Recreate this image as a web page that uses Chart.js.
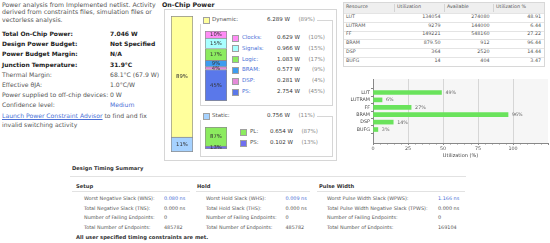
<!DOCTYPE html>
<html><head><meta charset="utf-8">
<script src="https://cdn.jsdelivr.net/npm/chart.js@4.4.1/dist/chart.umd.min.js"></script>
<style>
html,body{margin:0;padding:0;background:#fff;}
#root{position:relative;width:550px;height:243px;overflow:hidden;font-family:"DejaVu Sans",sans-serif;color:#555;}
.t{position:absolute;white-space:nowrap;line-height:1;}
.box{position:absolute;border:1px solid #d6d6d6;box-sizing:border-box;}
.hl{position:absolute;height:1px;background:#dedede;}
canvas{position:absolute;}
</style></head><body><div id="root"></div>
<script>
// ---------- data ----------
const introLines = ['Power analysis from Implemented netlist. Activity','derived from constraints files, simulation files or','vectorless analysis.'];
const summaryLabels = ['Total On-Chip Power:','Design Power Budget:','Power Budget Margin:','Junction Temperature:','Thermal Margin:','Effective \u03B8JA:','Power supplied to off-chip devices:','Confidence level:'];
const summaryValues = ['7.046 W','Not Specified','N/A','31.9\u00B0C','68.1\u00B0C (67.9 W)','1.0\u00B0C/W','0 W','Medium'];

const powerCats = ['Dynamic:','Static:'];
const powerWatts = [6.289, 0.756];
const powerPct = [89, 11];
const dynCats = ['Clocks:','Signals:','Logic:','BRAM:','DSP:','PS:'];
const dynWatts = [0.629, 0.966, 1.083, 0.577, 0.281, 2.754];
const dynPct = [10, 15, 17, 9, 4, 45];
const staticCats = ['PL:','PS:'];
const staticWatts = [0.654, 0.102];
const staticPct = [87, 13];

const tableHeader = ['Resource','Utilization','Available','Utilization %'];
const resources = ['LUT','LUTRAM','FF','BRAM','DSP','BUFG'];
const utilized = ['134054','9279','149221','879.50','364','14'];
const available = ['274080','144000','548160','912','2520','404'];
const utilPct = [48.91, 6.44, 27.22, 96.44, 14.44, 3.47];

const setupLabels = ['Worst Negative Slack (WNS):','Total Negative Slack (TNS):','Number of Failing Endpoints:','Total Number of Endpoints:'];
const setupValues = ['0.080 ns','0.000 ns','0','485782'];
const holdLabels = ['Worst Hold Slack (WHS):','Total Hold Slack (THS):','Number of Failing Endpoints:','Total Number of Endpoints:'];
const holdValues = ['0.009 ns','0.000 ns','0','485782'];
const pulseLabels = ['Worst Pulse Width Slack (WPWS):','Total Pulse Width Negative Slack (TPWS):','Number of Failing Endpoints:','Total Number of Endpoints:'];
const pulseValues = ['1.166 ns','0.000 ns','0','169104'];

// ---------- styles ----------
const FAMILY = '"DejaVu Sans", sans-serif';
const LINK = '#4a6fd6';
const powerColors = ['#ffff9c','#a6d2ff'];
const dynColors = ['#ff8cf5','#a8ffff','#8ceb5f','#3d9cf0','#e58ad9','#5a78ea'];
const staticColors = ['#8ceb5f','#6f6ff0'];
const BAR_GREEN = '#6ae35c';

const root = document.getElementById('root');
function T(x, y, s, o = {}) {
  const d = document.createElement('div');
  d.className = 't';
  const fs = o.fs || 6.2;
  d.style.fontSize = fs + 'px';
  d.style.top = (y - fs * 0.55) + 'px';
  d.style.left = x + 'px';
  if (o.right) d.style.transform = 'translateX(-100%)';
  if (o.bold) d.style.fontWeight = 'bold';
  if (o.color) d.style.color = o.color;
  if (o.bg) { d.style.background = o.bg; }
  if (o.u) d.style.textDecoration = 'underline';
  d.textContent = s;
  root.appendChild(d);
  return d;
}
function box(x, y, w, h, extra) {
  const d = document.createElement('div');
  d.className = 'box';
  Object.assign(d.style, {left: x + 'px', top: y + 'px', width: w + 'px', height: h + 'px'}, extra || {});
  root.appendChild(d); return d;
}
function hline(x, y, w, c) {
  const d = document.createElement('div'); d.className = 'hl';
  Object.assign(d.style, {left: x + 'px', top: y + 'px', width: w + 'px'});
  if (c) d.style.background = c;
  root.appendChild(d); return d;
}
function swatch(x, yc, color) {
  const d = document.createElement('div');
  Object.assign(d.style, {position:'absolute', left:x+'px', top:(yc-3.5)+'px', width:'7px', height:'7px', background:color, border:'1px solid #a0a0a0', boxSizing:'border-box'});
  root.appendChild(d);
}
function cv(x, y, w, h) {
  const c = document.createElement('canvas');
  c.width = w; c.height = h;
  Object.assign(c.style, {left: x + 'px', top: y + 'px', width: w + 'px', height: h + 'px'});
  root.appendChild(c); return c;
}

// ---------- left summary ----------
introLines.forEach((s, i) => T(2, 5 + i * 7.8, s, {fs: 6.2}));
summaryLabels.forEach((s, i) => {
  const y = 34.5 + i * 10.1;
  const bold = i < 4;
  T(2, y, s, {fs: bold ? 6 : 6.1, bold, color: bold ? '#222' : '#555'});
  T(110, y, summaryValues[i], {fs: bold ? 6 : 6.1, bold, color: i === 7 ? LINK : (bold ? '#222' : '#555')});
});
const l1 = T(2, 116.7, '', {fs: 6.1});
const a = document.createElement('span'); a.textContent = 'Launch Power Constraint Advisor';
a.style.color = LINK; a.style.textDecoration = 'underline';
l1.appendChild(a); l1.appendChild(document.createTextNode(' to find and fix'));
T(2, 125.3, 'invalid switching activity', {fs: 6.1});

// ---------- On-Chip Power panel ----------
box(164, 9, 173, 152);
T(162, 5, 'On-Chip Power', {fs: 6.3, bold: true, color: '#222', bg: '#fff'});
box(200, 20, 133, 86);
box(200, 116, 133, 41);
Chart.defaults.font.family = FAMILY;

const segLabels = {
  id: 'segLabels',
  afterDatasetsDraw(chart, args, opts) {
    const ctx = chart.ctx;
    chart.data.datasets.forEach((ds, i) => {
      const el = chart.getDatasetMeta(i).data[0];
      ctx.save();
      ctx.font = `${opts.size || 5.3}px ${FAMILY}`;
      ctx.fillStyle = '#333'; ctx.textAlign = 'center'; ctx.textBaseline = 'middle';
      ctx.fillText(ds.label, el.x, (el.y + el.base) / 2 + 0.5);
      ctx.restore();
    });
  }
};
function stacked(canvas, pcts, colors) {
  const ds = pcts.map((p, i) => ({label: p + '%', data: [p], backgroundColor: colors[i], borderColor: '#8c8c8c', borderWidth: 1, barPercentage: 1, categoryPercentage: 1}));
  ds.reverse();
  ds[0].borderSkipped = false;
  new Chart(canvas, {
    type: 'bar',
    data: {labels: [''], datasets: ds},
    options: {
      responsive: false, animation: false, events: [],
      layout: {padding: 0},
      plugins: {legend: {display: false}, tooltip: {enabled: false}, segLabels: {size: 5.3}},
      scales: {x: {display: false, stacked: true}, y: {display: false, stacked: true, min: 0, max: pcts.reduce((s, v) => s + v, 0)}}
    },
    plugins: [segLabels]
  });
}
stacked(cv(171, 16, 22, 136), powerPct, powerColors);
stacked(cv(205, 31, 22, 70), dynPct, dynColors);
stacked(cv(205, 127, 22, 22), staticPct, staticColors);

// legend headers
[20, 116].forEach((y, i) => {
  const bg = document.createElement('div');
  Object.assign(bg.style, {position:'absolute', left:'199px', top:(y-4)+'px', width:'118px', height:'8px', background:'#fff'});
  root.appendChild(bg);
  swatch(203, y, powerColors[i]);
  T(212, y, powerCats[i], {fs: 5.5, color: '#555'});
  T(290, y, powerWatts[i].toFixed(3) + ' W', {fs: 5.5, right: true, color: '#333'});
  T(315, y, '(' + powerPct[i] + '%)', {fs: 5.5, right: true, color: '#888'});
});
dynCats.forEach((c, i) => {
  const y = 38 + i * 10.8;
  swatch(232, y, dynColors[i]);
  T(242, y, c, {fs: 5.5, color: LINK});
  T(300, y, dynWatts[i].toFixed(3) + ' W', {fs: 5.5, right: true, color: '#333'});
  T(325, y, '(' + dynPct[i] + '%)', {fs: 5.5, right: true, color: '#888'});
});
staticCats.forEach((c, i) => {
  const y = 132 + i * 11;
  swatch(240, y, staticColors[i]);
  T(250, y, c, {fs: 5.5, color: '#555'});
  T(293, y, staticWatts[i].toFixed(3) + ' W', {fs: 5.5, right: true, color: '#333'});
  T(318, y, '(' + staticPct[i] + '%)', {fs: 5.5, right: true, color: '#888'});
});

// ---------- utilization table ----------
const colX = [343, 394, 444, 493, 545];
const tTop = 2, hdrH = 11, rowH = 8.8;
box(343, tTop, 202, hdrH + rowH * resources.length + 1.5, {borderColor: '#d8d8d8'});
const hdr = document.createElement('div');
Object.assign(hdr.style, {position:'absolute', left:'344px', top:(tTop+1)+'px', width:'200px', height:(hdrH-1)+'px', background:'#efefef'});
root.appendChild(hdr);
for (let k = 1; k < 4; k++) {
  const v = document.createElement('div');
  Object.assign(v.style, {position:'absolute', left:colX[k]+'px', top:(tTop+2)+'px', width:'1px', height:(hdrH-3)+'px', background:'#d4d4d4'});
  root.appendChild(v);
}
tableHeader.forEach((h, k) => T(colX[k] + 3, tTop + hdrH / 2 + 0.5, h, {fs: 4.8, color: '#555'}));
resources.forEach((r, i) => {
  const top = tTop + hdrH + i * rowH;
  hline(344, top, 200, '#e4e4e4');
  const yc = top + rowH / 2;
  T(colX[0] + 3, yc, r, {fs: 4.8, color: '#555'});
  T(colX[2] - 3.5, yc, utilized[i], {fs: 4.8, right: true, color: '#555'});
  T(colX[3] - 3.5, yc, available[i], {fs: 4.8, right: true, color: '#555'});
  T(colX[4] - 4, yc, utilPct[i].toFixed(2), {fs: 4.8, right: true, color: '#555'});
});

// ---------- utilization bar chart ----------
const plotBg = {
  id: 'plotBg',
  beforeDraw(chart) {
    const {ctx, chartArea: a} = chart;
    ctx.save(); ctx.fillStyle = '#f6f6f6'; ctx.fillRect(a.left, a.top, a.right - a.left, a.bottom - a.top); ctx.restore();
  },
  afterDraw(chart) {
    const {ctx, chartArea: a} = chart;
    const xs = chart.scales.x;
    ctx.save(); ctx.strokeStyle = '#888'; ctx.lineWidth = 1;
    for (let v = 5; v < xs.max; v += 5) {
      if (v % 25 === 0) continue;
      const px = Math.round(xs.getPixelForValue(v)) + 0.5;
      ctx.beginPath(); ctx.moveTo(px, a.bottom); ctx.lineTo(px, a.bottom + 1.5); ctx.stroke();
    }
    // value labels
    const meta = chart.getDatasetMeta(0);
    ctx.font = `4.8px ${FAMILY}`; ctx.fillStyle = '#666'; ctx.textBaseline = 'middle'; ctx.textAlign = 'left';
    meta.data.forEach((el, i) => ctx.fillText(Math.round(utilPct[i]) + '%', el.x + 4, el.y + 0.3));
    ctx.restore();
  }
};
new Chart(cv(340, 75, 210, 84), {
  type: 'bar',
  data: {datasets: [{data: utilPct.map((v, i) => ({x: v, y: i})), backgroundColor: BAR_GREEN, borderWidth: 0, barThickness: 4}]},
  options: {
    indexAxis: 'y', responsive: false, animation: false, events: [],
    layout: {padding: {top: 4, right: 2, left: 0, bottom: 0}},
    plugins: {legend: {display: false}, tooltip: {enabled: false}},
    scales: {
      x: {
        type: 'linear', min: 0, max: 125,
        ticks: {stepSize: 25, callback: v => (v <= 100 ? v : ''), font: {size: 4.8}, color: '#555', padding: 1, maxRotation: 0},
        grid: {color: c => (c.tick && (c.tick.value === 125 || c.tick.value === 0) ? 'rgba(0,0,0,0)' : '#d6d6d6'), tickColor: '#888', tickLength: 2},
        border: {color: '#888'},
        title: {display: true, text: 'Utilization (%)', font: {size: 5}, color: '#444', padding: {top: 0, bottom: 0}},
        afterFit: s => { s.height = 16; }
      },
      y: {
        type: 'linear', reverse: true, min: -1.1, max: 6.1,
        afterBuildTicks: s => { s.ticks = resources.map((_, i) => ({value: i})); },
        ticks: {callback: v => resources[v], font: {size: 4.8}, color: '#444', padding: 1, autoSkip: false},
        grid: {drawOnChartArea: false, tickLength: 2, color: '#888'},
        border: {color: '#888'},
        afterFit: s => { s.width = 33; }
      }
    }
  },
  plugins: [plotBg]
});

// ---------- timing summary ----------
T(72, 169, 'Design Timing Summary', {fs: 5.2, bold: true, color: '#333'});
hline(70, 175.5, 396, '#e2e2e2');
const groups = [
  {title: 'Setup', tx: 76, lx: 84, vx: 164, l0: 72, lw: 118, labels: setupLabels, values: setupValues},
  {title: 'Hold', tx: 197, lx: 206, vx: 285.5, l0: 196, lw: 114, labels: holdLabels, values: holdValues},
  {title: 'Pulse Width', tx: 319, lx: 327, vx: 438, l0: 317, lw: 148, labels: pulseLabels, values: pulseValues}
];
groups.forEach(g => {
  T(g.tx, 187, g.title, {fs: 5.2, bold: true, color: '#333'});
  hline(g.l0, 191, g.lw, '#e2e2e2');
  g.labels.forEach((s, i) => {
    const y = 198.7 + i * 9.5;
    T(g.lx, y, s, {fs: 4.9, color: '#555'});
    T(g.vx, y, g.values[i], {fs: 4.9, color: i === 0 ? LINK : '#555'});
  });
});
T(76, 238, 'All user specified timing constraints are met.', {fs: 5.2, bold: true, color: '#333'});
</script></body></html>
